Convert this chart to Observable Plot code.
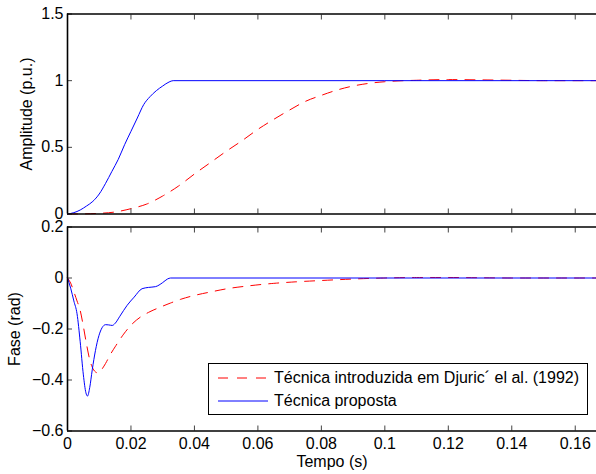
<!DOCTYPE html>
<html>
<head>
<meta charset="utf-8">
<script src="https://cdn.jsdelivr.net/npm/d3@7"></script>
<script src="https://cdn.jsdelivr.net/npm/@observablehq/plot@0.6"></script>
<style>
  html, body { margin: 0; padding: 0; background: #fff; }
  #wrap { position: relative; width: 596px; height: 474px; overflow: hidden; font-family: "Liberation Sans", Arial, Helvetica, sans-serif; }
  #top, #bot { position: absolute; left: 0; }
  #top { top: 0; }
  #bot { top: 220px; }
  #legend { position: absolute; left: 208px; top: 363px; width: 378px; height: 50px; border: 1px solid #000; background: #fff; font-size: 16px; color: #000; }
  .row { position: absolute; left: 9px; height: 20px; display: flex; align-items: center; white-space: nowrap; }
  .row svg { margin-right: 6px; }
</style>
</head>
<body>
<div id="wrap">
  <div id="top"></div>
  <div id="bot"></div>
  <div id="legend">
    <div class="row" style="top:4px"><svg width="50" height="10"><line x1="0" x2="50" y1="5" y2="5" stroke="#ff0000" stroke-width="1" stroke-dasharray="10,9"/></svg><span id="lab1"></span></div>
    <div class="row" style="top:27px"><svg width="50" height="10"><line x1="0" x2="50" y1="5" y2="5" stroke="#0000ff" stroke-width="1"/></svg><span id="lab2"></span></div>
  </div>
</div>
<script>
// ---- data ----
const seriesNames = ["Técnica introduzida em Djuric´ el al. (1992)", "Técnica proposta"];

const tAmpBlue = [0, 0.002, 0.004, 0.006, 0.008, 0.010, 0.012, 0.014, 0.016, 0.018, 0.020, 0.022, 0.024, 0.026, 0.028, 0.030, 0.032, 0.0333, 0.1667];
const ampBlue  = [0, 0.01, 0.03, 0.06, 0.095, 0.15, 0.23, 0.32, 0.41, 0.52, 0.62, 0.72, 0.82, 0.88, 0.925, 0.96, 0.99, 1.0, 1.0];

const tAmpRed = [0, 0.005, 0.01, 0.015, 0.02, 0.025, 0.03, 0.035, 0.04, 0.045, 0.05, 0.055, 0.06, 0.065, 0.07, 0.075, 0.08, 0.085, 0.09, 0.095, 0.10, 0.11, 0.12, 0.13, 0.14, 0.15, 0.1667];
const ampRed  = [0, 0.001, 0.005, 0.015, 0.04, 0.075, 0.135, 0.21, 0.30, 0.385, 0.47, 0.55, 0.635, 0.71, 0.78, 0.845, 0.89, 0.93, 0.96, 0.98, 0.992, 1.003, 1.008, 1.006, 1.003, 1.0, 1.0];

const tPhaseBlue = [0, 0.001, 0.002, 0.003, 0.004, 0.005, 0.0058, 0.0063, 0.007, 0.0078, 0.0088, 0.0099, 0.0109, 0.012, 0.013, 0.0141, 0.015, 0.0165, 0.0188, 0.021, 0.0235, 0.0255, 0.0277, 0.030, 0.0315, 0.0325, 0.1667];
const phaseBlue  = [0, -0.04, -0.09, -0.14, -0.25, -0.38, -0.45, -0.463, -0.43, -0.36, -0.285, -0.226, -0.195, -0.183, -0.184, -0.186, -0.178, -0.15, -0.107, -0.075, -0.042, -0.037, -0.034, -0.018, -0.004, 0, 0];

const tPhaseRed = [0, 0.001, 0.002, 0.003, 0.004, 0.005, 0.006, 0.007, 0.008, 0.009, 0.0095, 0.010, 0.011, 0.012, 0.0135, 0.015, 0.0177, 0.020, 0.023, 0.026, 0.0293, 0.0325, 0.0358, 0.0408, 0.045, 0.0503, 0.057, 0.065, 0.072, 0.0797, 0.09, 0.10, 0.11, 0.12, 0.13, 0.14, 0.1667];
const phaseRed  = [0, -0.02, -0.054, -0.09, -0.127, -0.19, -0.26, -0.32, -0.355, -0.37, -0.372, -0.37, -0.355, -0.335, -0.30, -0.27, -0.22, -0.185, -0.153, -0.132, -0.114, -0.098, -0.083, -0.066, -0.055, -0.042, -0.031, -0.021, -0.015, -0.010, -0.004, 0, 0.002, 0.002, 0.001, 0, 0];

const xTicks = [0, 0.02, 0.04, 0.06, 0.08, 0.10, 0.12, 0.14, 0.16];
const ampTicks = [0, 0.5, 1, 1.5];
const phaseTicks = [-0.6, -0.4, -0.2, 0, 0.2];
const xDomain = [0, 0.1667];
const ampDomain = [0, 1.5];
const phaseDomain = [-0.6, 0.2];

const RED = "#ff0000", BLUE = "#0000ff";
const FONT = "'Liberation Sans', Arial, Helvetica, sans-serif";
const DASH = "10,8";

const zipT = (ts, vs) => ts.map((t, i) => ({t, v: vs[i]}));
const fmt = (d) => (d < 0 ? "\u2212" : "") + String(+Math.abs(d).toFixed(4));

function frameMarks(yDomain) {
  return [
    Plot.ruleY([yDomain[0], yDomain[1]], {stroke: "#000", strokeWidth: 1.6}),
    Plot.ruleX([xDomain[0]], {stroke: "#000", strokeWidth: 1.6})
  ];
}

function panel({yDomain, yTicks, yLabel, labelOffsetY, red, blue, height, marginTop, marginBottom, showX}) {
  const marks = [
    Plot.line(red, {x: "t", y: "v", stroke: RED, strokeWidth: 1, strokeDasharray: DASH, curve: "monotone-x"}),
    Plot.line(blue, {x: "t", y: "v", stroke: BLUE, strokeWidth: 1, curve: "monotone-x"}),
    // inward ticks
    Plot.axisX(xTicks, {anchor: "bottom", tickSize: -5, tickFormat: () => "", label: null, stroke: "#444"}),
    Plot.axisX(xTicks, {anchor: "top", tickSize: -5, tickFormat: () => "", label: null, stroke: "#444"}),
    Plot.axisY(yTicks, {anchor: "left", tickSize: -5, tickFormat: () => "", label: null, stroke: "#444"}),
    Plot.axisY(yTicks, {anchor: "left", tickSize: 0, tickPadding: 4, tickFormat: fmt, label: yLabel, labelAnchor: "center", labelArrow: "none", labelOffset: labelOffsetY, fontSize: 16}),
    ...frameMarks(yDomain)
  ];
  if (showX) {
    marks.push(Plot.axisX(xTicks, {anchor: "bottom", tickSize: 0, tickPadding: 7, tickFormat: fmt, label: "Tempo (s)", labelAnchor: "center", labelArrow: "none", labelOffset: 36, fontSize: 16}));
  }
  return Plot.plot({
    width: 596, height, marginLeft: 67, marginRight: 0, marginTop, marginBottom,
    style: {fontFamily: FONT, fontSize: "16px", color: "#000", background: "transparent", overflow: "visible"},
    x: {domain: xDomain},
    y: {domain: yDomain},
    marks
  });
}

document.getElementById("top").appendChild(panel({
  yDomain: ampDomain, yTicks: ampTicks, yLabel: "Amplitude (p.u.)", labelOffsetY: 47,
  red: zipT(tAmpRed, ampRed), blue: zipT(tAmpBlue, ampBlue),
  height: 220, marginTop: 13.5, marginBottom: 6.5, showX: false
}));
document.getElementById("bot").appendChild(panel({
  yDomain: phaseDomain, yTicks: phaseTicks, yLabel: "Fase (rad)", labelOffsetY: 59,
  red: zipT(tPhaseRed, phaseRed), blue: zipT(tPhaseBlue, phaseBlue),
  height: 254, marginTop: 6.5, marginBottom: 43.5, showX: true
}));
document.getElementById("lab1").textContent = seriesNames[0];
document.getElementById("lab2").textContent = seriesNames[1];
</script>
</body>
</html>
